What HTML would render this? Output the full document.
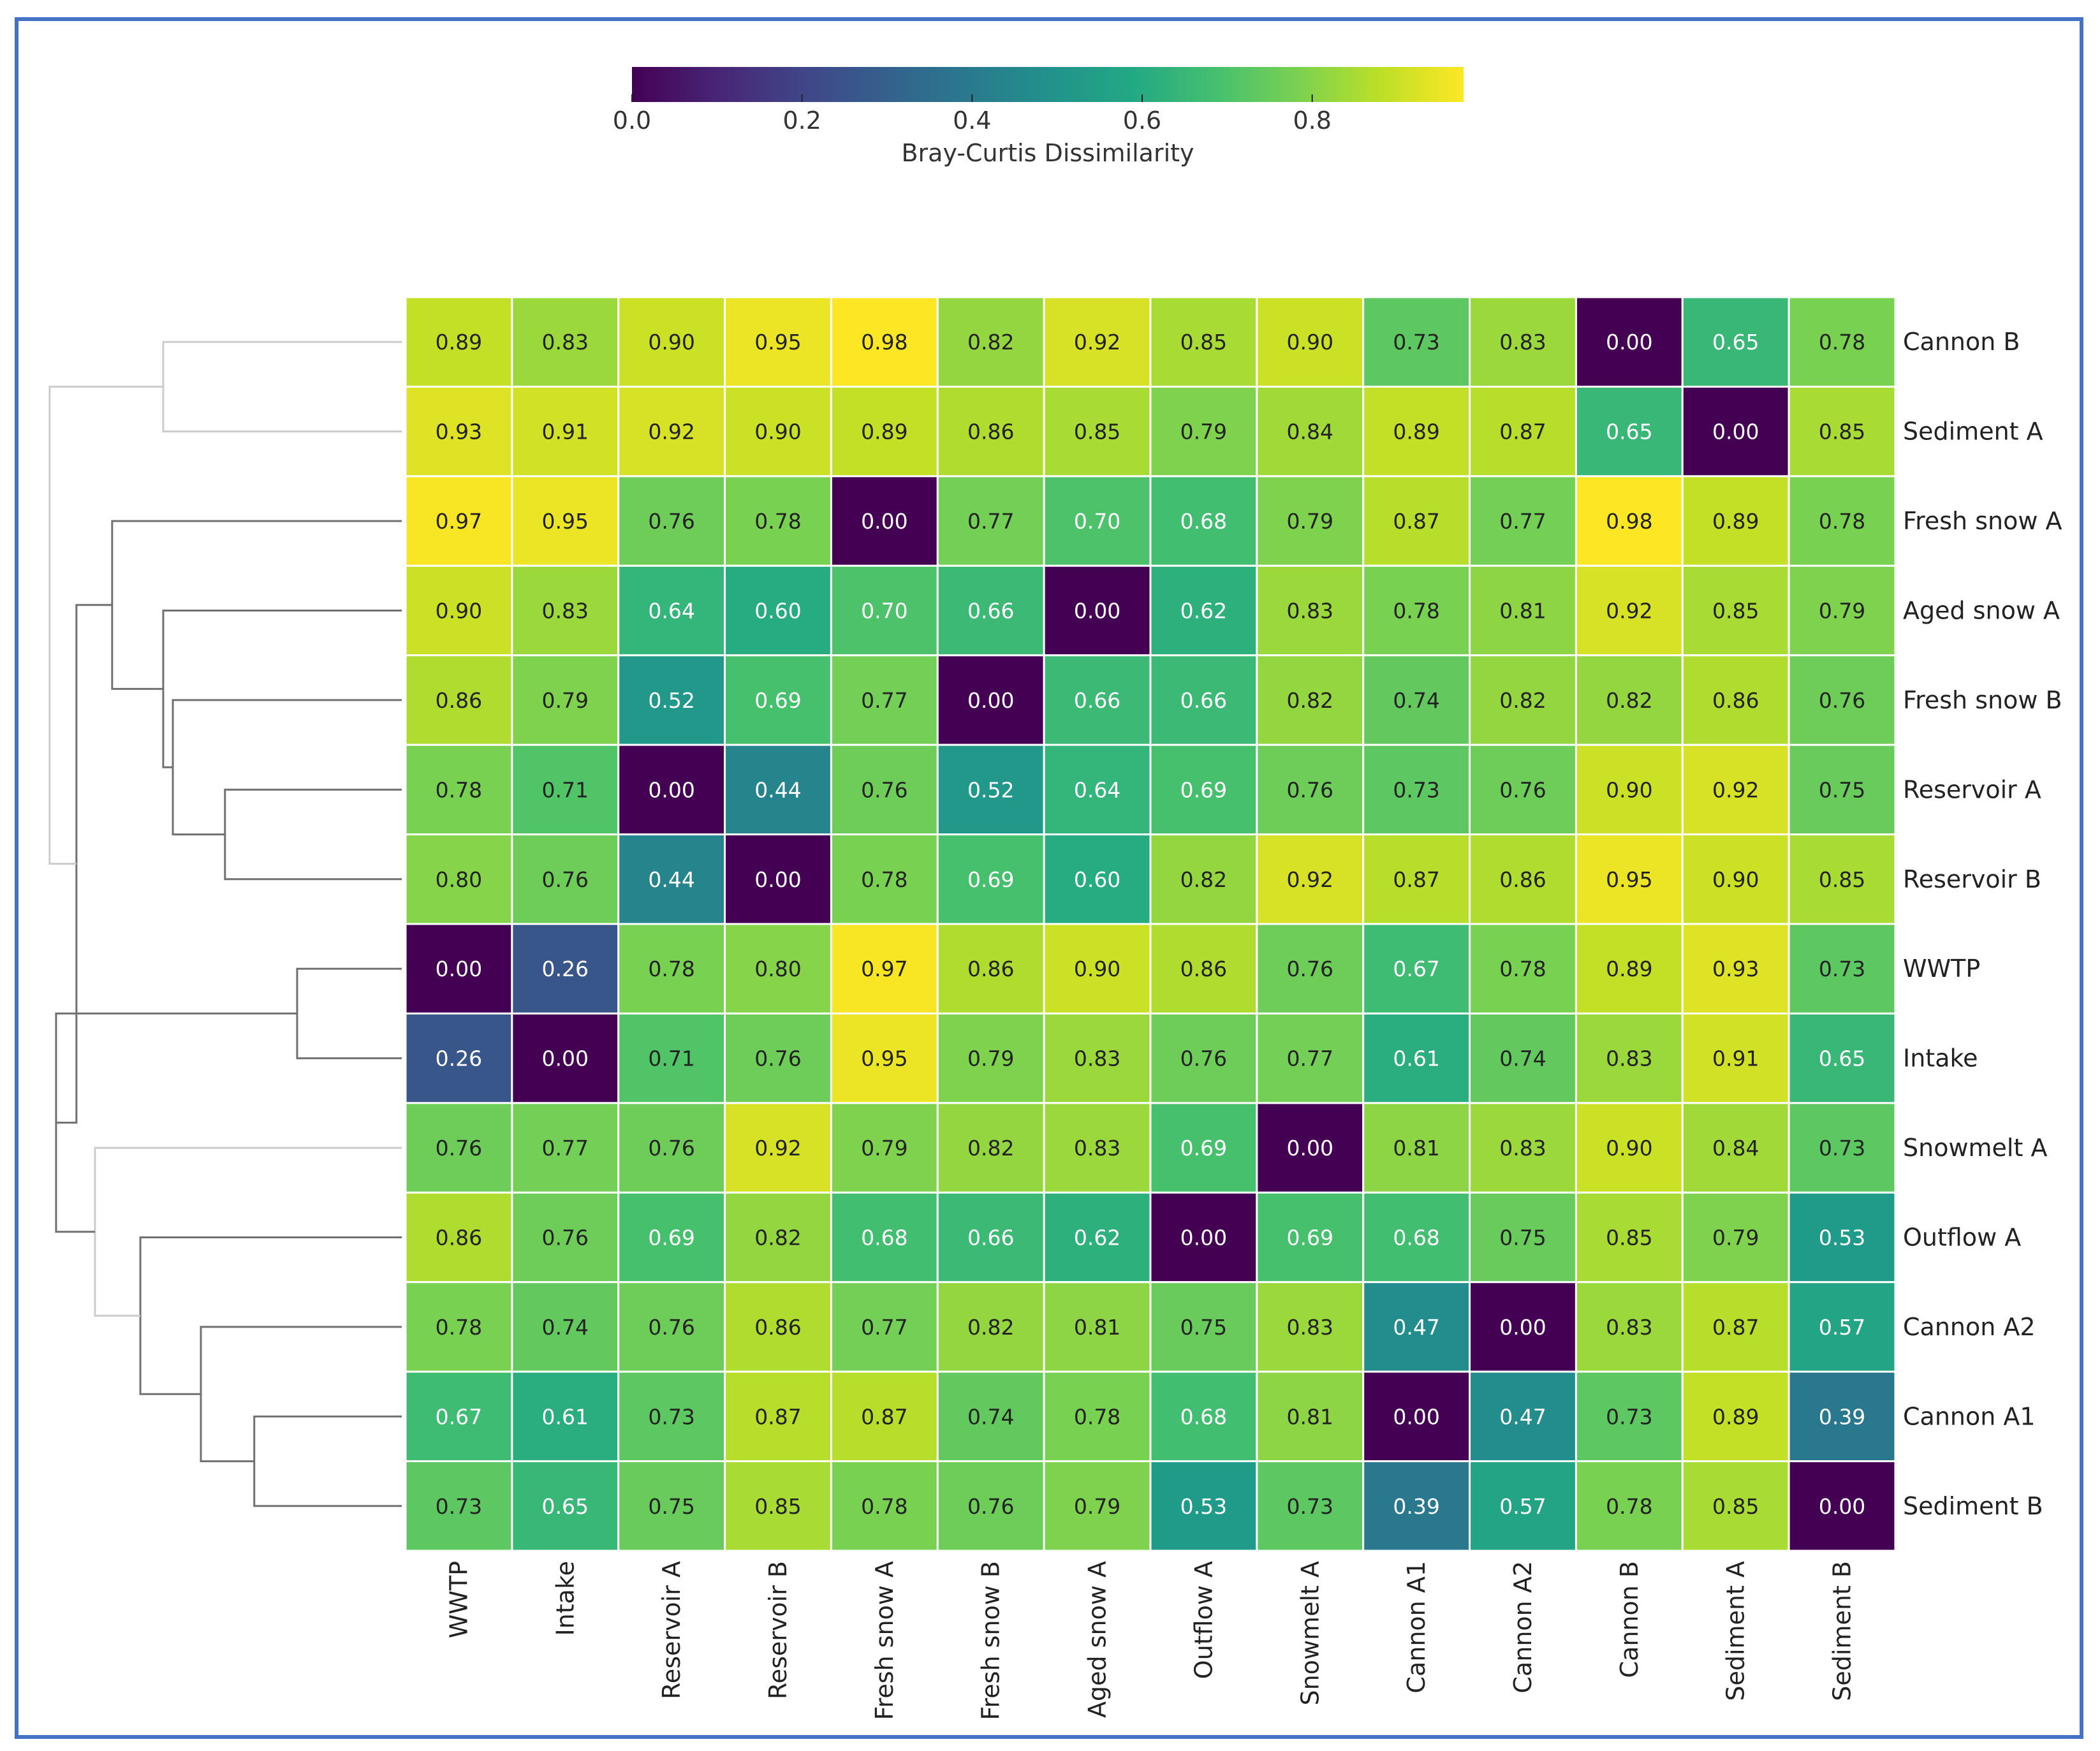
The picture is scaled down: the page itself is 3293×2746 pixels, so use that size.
<!DOCTYPE html>
<html><head><meta charset="utf-8"><style>
html,body{margin:0;padding:0;background:#fff}
svg{display:block}
text{font-family:"DejaVu Sans","Liberation Sans",sans-serif}
</style></head><body>
<svg id="chart" width="3293" height="2746" viewBox="0 0 3293 2746" xmlns="http://www.w3.org/2000/svg">
<rect x="26" y="30" width="3238" height="2694" fill="#fff" stroke="#4472C4" stroke-width="6"/>
<defs><linearGradient id="vir" x1="0" x2="1" y1="0" y2="0"></linearGradient></defs>
<g id="cbar"></g>
<g id="dendro"></g>
<g id="heat"></g>
<g id="rlabels"></g>
<g id="clabels"></g>
</svg>
<script>
const colLabels=["WWTP","Intake","Reservoir A","Reservoir B","Fresh snow A","Fresh snow B","Aged snow A","Outflow A","Snowmelt A","Cannon A1","Cannon A2","Cannon B","Sediment A","Sediment B"];
const rowLabels=["Cannon B","Sediment A","Fresh snow A","Aged snow A","Fresh snow B","Reservoir A","Reservoir B","WWTP","Intake","Snowmelt A","Outflow A","Cannon A2","Cannon A1","Sediment B"];
const values=[
[0.89,0.83,0.90,0.95,0.98,0.82,0.92,0.85,0.90,0.73,0.83,0.00,0.65,0.78],
[0.93,0.91,0.92,0.90,0.89,0.86,0.85,0.79,0.84,0.89,0.87,0.65,0.00,0.85],
[0.97,0.95,0.76,0.78,0.00,0.77,0.70,0.68,0.79,0.87,0.77,0.98,0.89,0.78],
[0.90,0.83,0.64,0.60,0.70,0.66,0.00,0.62,0.83,0.78,0.81,0.92,0.85,0.79],
[0.86,0.79,0.52,0.69,0.77,0.00,0.66,0.66,0.82,0.74,0.82,0.82,0.86,0.76],
[0.78,0.71,0.00,0.44,0.76,0.52,0.64,0.69,0.76,0.73,0.76,0.90,0.92,0.75],
[0.80,0.76,0.44,0.00,0.78,0.69,0.60,0.82,0.92,0.87,0.86,0.95,0.90,0.85],
[0.00,0.26,0.78,0.80,0.97,0.86,0.90,0.86,0.76,0.67,0.78,0.89,0.93,0.73],
[0.26,0.00,0.71,0.76,0.95,0.79,0.83,0.76,0.77,0.61,0.74,0.83,0.91,0.65],
[0.76,0.77,0.76,0.92,0.79,0.82,0.83,0.69,0.00,0.81,0.83,0.90,0.84,0.73],
[0.86,0.76,0.69,0.82,0.68,0.66,0.62,0.00,0.69,0.68,0.75,0.85,0.79,0.53],
[0.78,0.74,0.76,0.86,0.77,0.82,0.81,0.75,0.83,0.47,0.00,0.83,0.87,0.57],
[0.67,0.61,0.73,0.87,0.87,0.74,0.78,0.68,0.81,0.00,0.47,0.73,0.89,0.39],
[0.73,0.65,0.75,0.85,0.78,0.76,0.79,0.53,0.73,0.39,0.57,0.78,0.85,0.00]];
const cbarTicks=[0.0,0.2,0.4,0.6,0.8];
// linkage merges: [childA, childB, height]; leaves 0..13 in row order
const mergeA=[5,4,3,2,12,11,10,9,7,22,17,0,25];
const mergeB=[6,14,15,16,13,18,19,20,8,21,23,1,24];
const mergeH=[0.495,0.641,0.668,0.811,0.413,0.5625,0.732,0.859,0.293,0.968,0.911,0.668,0.986];
const lightNodes=[21,25,26];

const NS="http://www.w3.org/2000/svg";
function mk(tag,attrs,parent){const e=document.createElementNS(NS,tag);for(const k in attrs)e.setAttribute(k,attrs[k]);parent.appendChild(e);return e;}
const vmin=0,vmax=0.978;
const stops=["#440154","#482475","#414487","#355f8d","#2a788e","#21918c","#22a884","#44bf70","#7ad151","#bddf26","#fde725"];
function hex(h){return [parseInt(h.slice(1,3),16),parseInt(h.slice(3,5),16),parseInt(h.slice(5,7),16)];}
function viridis(v){let t=(v-vmin)/(vmax-vmin);t=Math.max(0,Math.min(1,t));const p=t*10,i=Math.min(9,Math.floor(p)),f=p-i;const a=hex(stops[i]),b=hex(stops[i+1]);return `rgb(${a.map((x,k)=>Math.round(x+(b[k]-x)*f)).join(',')})`;}

// heatmap geometry
const HX0=636,HX1=2972,HY0=466,HY1=2432;
const cw=(HX1-HX0)/colLabels.length, ch=(HY1-HY0)/rowLabels.length;
const xCol=j=>HX0+j*cw, yRow=i=>HY0+i*ch;
const heat=document.getElementById('heat');
values.forEach((row,i)=>row.forEach((v,j)=>{
  const r=mk('rect',{x:xCol(j),y:yRow(i),width:cw,height:ch,fill:viridis(v),stroke:'#fff','stroke-width':3},heat);
  
  
  const t=mk('text',{x:xCol(j)+cw/2,y:yRow(i)+ch/2+12,'text-anchor':'middle','font-size':33,fill:v<=0.70?'#fff':'#222'},heat);
  t.textContent=v.toFixed(2);
  
  
}));
const rl=document.getElementById('rlabels');
rowLabels.forEach((l,i)=>{const t=mk('text',{x:2984,y:yRow(i)+ch/2+13,'font-size':38,fill:'#222'},rl);t.textContent=l;
  
  });
const cl=document.getElementById('clabels');
colLabels.forEach((l,j)=>{const x=xCol(j)+cw/2+13,y=2448;const t=mk('text',{x:x,y:y,'font-size':38,fill:'#222','text-anchor':'end',transform:`rotate(-90 ${x} ${y})`},cl);t.textContent=l;
  
  });

// colorbar
const CX0=991,CX1=2295,CY0=105,CY1=160;
const cb=document.getElementById('cbar');
const g=document.getElementById('vir');
stops.forEach((s,k)=>mk('stop',{offset:k/10,'stop-color':s},g));
const cr=mk('rect',{x:CX0,y:CY0,width:CX1-CX0,height:CY1-CY0,fill:'url(#vir)'},cb);


const cbx=v=>CX0+(v-vmin)/(vmax-vmin)*(CX1-CX0);
cbarTicks.forEach(v=>{
  mk('line',{x1:cbx(v),x2:cbx(v),y1:CY1-12,y2:CY1,stroke:'#222','stroke-width':2},cb);
  const t=mk('text',{x:cbx(v),y:202,'text-anchor':'middle','font-size':38,fill:'#333'},cb);t.textContent=v.toFixed(1);
  
  
});
const ct=mk('text',{x:1643,y:253,'text-anchor':'middle','font-size':38,fill:'#333'},cb);ct.textContent='Bray-Curtis Dissimilarity';



// dendrogram
const dd=document.getElementById('dendro');
const LX=630, dScale=560;
const dx=h=>LX-h*dScale;
const nodeY=[],nodeH=[];
rowLabels.forEach((_,i)=>{nodeY[i]=yRow(i)+ch/2;nodeH[i]=0;});
mergeA.forEach((a,k)=>{
  const b=mergeB[k],h=mergeH[k],id=rowLabels.length+k;
  nodeY[id]=(nodeY[a]+nodeY[b])/2;nodeH[id]=h;
  const col=lightNodes.includes(id)?'#cccccc':'#707070';
  const p=mk('path',{d:`M${dx(nodeH[a])},${nodeY[a]}H${dx(h)}V${nodeY[b]}H${dx(nodeH[b])}`,fill:'none',stroke:col,'stroke-width':3},dd);
  
  
});
</script>
</body></html>
